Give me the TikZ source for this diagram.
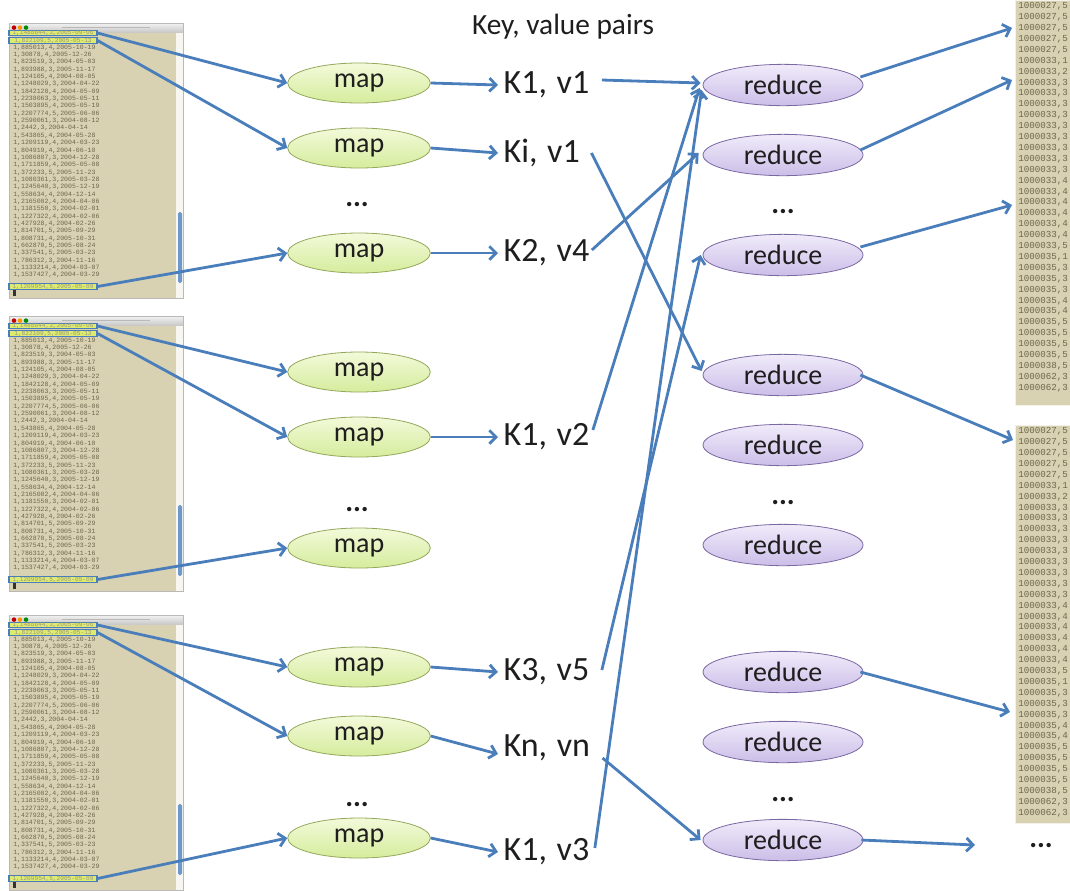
\documentclass[tikz,border=0pt]{standalone}
\usepackage{fontspec}
\setmainfont{Carlito}
\newfontfamily\termfont{Liberation Mono}
\usetikzlibrary{shapes.geometric,arrows.meta,calc}

\definecolor{flow}{RGB}{74,126,187}
\definecolor{mapA}{RGB}{242,250,218}
\definecolor{mapB}{RGB}{214,236,156}
\definecolor{mapedge}{RGB}{148,168,92}
\definecolor{redA}{RGB}{240,235,250}
\definecolor{redB}{RGB}{204,190,232}
\definecolor{rededge}{RGB}{122,104,162}
\definecolor{paper}{RGB}{216,210,178}
\definecolor{ink}{RGB}{112,102,76}
\definecolor{hlfill}{RGB}{222,236,110}
\definecolor{labelink}{RGB}{30,30,30}

% one terminal window listing rating records; #1 name prefix, #2 vertical offset
\newcommand\ratingswin[2]{%
\begin{scope}[shift={(0,#2)}]
  \fill[paper] (9,23) rectangle (183,298);
  \fill[white!80!paper] (176,32) rectangle (183,298);
  \shade[top color=gray!10,bottom color=gray!42] (9,23) rectangle (183,32);
  \fill[gray!55] (62,26.9) rectangle (150,28.3);
  \fill[red!75!black] (14,27.6) circle (1.7pt);
  \fill[orange!85!yellow] (20,27.6) circle (1.7pt);
  \fill[green!55!black] (26,27.6) circle (1.7pt);
  \draw[gray!55,line width=0.4pt] (9,23) rectangle (183,298);
  \fill[flow!80,rounded corners=1.2pt] (178,212) rectangle (182,283);
  \fill[black!80] (13,290) rectangle (16,296);
  \foreach \r [count=\i from 0] in {%
    {1,885013,4,2005-10-19},{1,30878,4,2005-12-26},{1,823519,3,2004-05-03},
    {1,893988,3,2005-11-17},{1,124105,4,2004-08-05},{1,1248029,3,2004-04-22},
    {1,1842128,4,2004-05-09},{1,2238063,3,2005-05-11},{1,1503895,4,2005-05-19},
    {1,2207774,5,2005-06-06},{1,2590061,3,2004-08-12},{1,2442,3,2004-04-14},
    {1,543865,4,2004-05-28},{1,1209119,4,2004-03-23},{1,804919,4,2004-06-10},
    {1,1086807,3,2004-12-28},{1,1711859,4,2005-05-08},{1,372233,5,2005-11-23},
    {1,1080361,3,2005-03-28},{1,1245640,3,2005-12-19},{1,558634,4,2004-12-14},
    {1,2165002,4,2004-04-06},{1,1181550,3,2004-02-01},{1,1227322,4,2004-02-06},
    {1,427928,4,2004-02-26},{1,814701,5,2005-09-29},{1,808731,4,2005-10-31},
    {1,662870,5,2005-08-24},{1,337541,5,2005-03-23},{1,786312,3,2004-11-16},
    {1,1133214,4,2004-03-07},{1,1537427,4,2004-03-29}}
    \node[datarow] at (13,{47.5+7.35*\i}) {\r};
  \node[hlrow] (#1h1) at (53,33) {1,1488844,3,2005-09-06};
  \node[hlrow] (#1h2) at (53,40.5) {1,822109,5,2005-05-13};
  \node[hlrow] (#1hb) at (53,286.5) {1,1209954,5,2005-05-09};
\end{scope}}

% one sorted output file; #1 node name, #2 top, #3 height
\newcommand\outfile[3]{%
  \node[outbox,minimum height=#3*0.75pt] (#1) at (1015,#2) {};
  \foreach \r [count=\i from 0] in {%
    {1000027,5},{1000027,5},{1000027,5},{1000027,5},{1000027,5},
    {1000033,1},{1000033,2},{1000033,3},{1000033,3},{1000033,3},
    {1000033,3},{1000033,3},{1000033,3},{1000033,3},{1000033,3},
    {1000033,3},{1000033,4},{1000033,4},{1000033,4},{1000033,4},
    {1000033,4},{1000033,4},{1000033,5},{1000035,1},{1000035,3},
    {1000035,3},{1000035,3},{1000035,4},{1000035,4},{1000035,5},
    {1000035,5},{1000035,5},{1000035,5},{1000038,5},{1000062,3},
    {1000062,3}}
    \node[outrow] at (1018,{#2+6.5+10.9*\i}) {\r};
}

\begin{document}
\begin{tikzpicture}[x=0.75pt,y=-0.75pt,
  datarow/.style={anchor=west,inner sep=0pt,text=ink,
    font=\termfont\fontsize{4.9}{5}\selectfont},
  hlrow/.style={draw=flow,line width=0.8pt,fill=hlfill,inner sep=0pt,
    minimum width=66pt,minimum height=3.9pt,text=ink!70,
    font=\termfont\fontsize{4.6}{5}\selectfont},
  outbox/.style={anchor=north west,fill=paper,draw=white!70!paper,
    line width=0.6pt,minimum width=45pt,inner sep=0pt},
  outrow/.style={anchor=west,inner sep=0pt,text=ink,
    font=\termfont\fontsize{6.9}{7}\selectfont},
  mapnode/.style={ellipse,draw=mapedge,line width=0.6pt,
    top color=mapA,bottom color=mapB,minimum width=107pt,minimum height=30pt,
    inner sep=0pt,text=labelink,font=\fontsize{21}{24}\selectfont},
  rednode/.style={ellipse,draw=rededge,line width=0.6pt,
    top color=redA,bottom color=redB,minimum width=120pt,minimum height=31pt,
    inner sep=0pt,text=labelink,font=\fontsize{21}{24}\selectfont},
  kv/.style={anchor=west,inner xsep=4pt,inner ysep=0pt,text=labelink,
    font=\fontsize{25.5}{28}\selectfont},
  more/.style={text=labelink,inner sep=0pt,font=\bfseries\fontsize{22}{24}\selectfont},
  flowline/.style={draw=flow,line width=2.1pt,
    -{Straight Barb[length=5pt,width=10pt]}}]

\useasboundingbox (0,0) rectangle (1070,890);
\clip (0,0) rectangle (1070,890);

% input windows
\ratingswin{wa}{0}
\ratingswin{wb}{293}
\ratingswin{wc}{592}

% output files
\outfile{outa}{0}{405}
\outfile{outb}{425}{398}

% map tasks
\node[mapnode] (m1) at (359,83) {map};
\node[mapnode] (m2) at (359,148) {map};
\node[more] at (357,205) {...};
\node[mapnode] (m3) at (359,253) {map};
\node[mapnode] (m4) at (359,372) {map};
\node[mapnode] (m5) at (359,437) {map};
\node[more] at (357,510) {...};
\node[mapnode] (m6) at (359,548) {map};
\node[mapnode] (m7) at (359,667) {map};
\node[mapnode] (m8) at (359,736) {map};
\node[more] at (357,805) {...};
\node[mapnode] (m9) at (359,838) {map};

% intermediate pairs
\node[text=labelink,font=\fontsize{22}{24}\selectfont] (title) at (563,27) {Key, value pairs};
\node[kv] (k11) at (498,85) {K1,\kern1.5pt\ v1};
\node[kv] (ki1) at (498,153) {Ki,\kern1.5pt\ v1};
\node[kv] (k24) at (498,253) {K2,\kern1.5pt\ v4};
\node[kv] (k12) at (498,437) {K1,\kern1.5pt\ v2};
\node[kv] (k35) at (498,672) {K3,\kern1.5pt\ v5};
\node[kv] (knn) at (498,748) {Kn,\kern1.5pt\ vn};
\node[kv] (k13) at (498,852) {K1,\kern1.5pt\ v3};

% reduce tasks
\node[rednode] (r1) at (783,85) {reduce};
\node[rednode] (r2) at (783,155) {reduce};
\node[more] at (783,212) {...};
\node[rednode] (r3) at (783,255) {reduce};
\node[rednode] (r4) at (783,375) {reduce};
\node[rednode] (r5) at (783,445) {reduce};
\node[more] at (783,503) {...};
\node[rednode] (r6) at (783,545) {reduce};
\node[rednode] (r7) at (783,672) {reduce};
\node[rednode] (r8) at (783,742) {reduce};
\node[more] at (783,800) {...};
\node[rednode] (r9) at (783,840) {reduce};
\node[more] (tail) at (1041,846) {...};

% output targets
\coordinate (oa1) at (1012,28);
\coordinate (oa2) at (1012,80);
\coordinate (oa3) at (1012,205);
\coordinate (ob1) at (1013,440);
\coordinate (ob2) at (1010,712);
\coordinate (oc) at (975,845);

% split records to map tasks
\draw[flowline] (wah1.east) -- (m1.west);
\draw[flowline] (wah2.east) -- (m2.west);
\draw[flowline] (wahb.east) -- (m3.west);
\draw[flowline] (wbh1.east) -- (m4.west);
\draw[flowline] (wbh2.east) -- (m5.west);
\draw[flowline] (wbhb.east) -- (m6.west);
\draw[flowline] (wch1.east) -- (m7.west);
\draw[flowline] (wch2.east) -- (m8.west);
\draw[flowline] (wchb.east) -- (m9.west);

% map output
\draw[flowline] (m1.east) -- (k11.west);
\draw[flowline] (m2.east) -- (ki1.west);
\draw[flowline] (m3.east) -- (k24.west);
\draw[flowline] (m5.east) -- (k12.west);
\draw[flowline] (m7.east) -- (k35.west);
\draw[flowline] (m8.east) -- ($(knn.west)+(0,6)$);
\draw[flowline] (m9.east) -- (k13.west);

% shuffle by key
\draw[flowline] ($(k11.east)+(7,-5)$) -- ($(r1.west)+(-2,-2)$);
\draw[flowline] ($(ki1.east)+(6,0)$) -- ($(r4.west)+(-1,-4)$);
\draw[flowline] ($(k24.east)+(-3,-3)$) -- ($(r2.west)+(-4,-2)$);
\draw[flowline] ($(k12.east)+(-2,-7)$) -- ($(r1.west)+(-3,3)$);
\draw[flowline] ($(k35.east)+(7,-2)$) -- ($(r3.west)+(-2,0)$);
\draw[flowline] ($(k13.east)+(0,-4)$) -- ($(r1.west)+(-1,5)$);
\draw[flowline] ($(knn.east)+(7,10)$) -- ($(r9.west)+(-2,0)$);

% reduce output
\draw[flowline] ($(r1.east)+(-3,-8)$) -- (oa1);
\draw[flowline] ($(r2.east)+(-3,-5)$) -- (oa2);
\draw[flowline] ($(r3.east)+(-3,-8)$) -- (oa3);
\draw[flowline] ($(r4.east)+(-3,0)$) -- (ob1);
\draw[flowline] ($(r7.east)+(-3,0)$) -- (ob2);
\draw[flowline] ($(r9.east)+(-2,0)$) -- (oc);

\end{tikzpicture}
\end{document}
